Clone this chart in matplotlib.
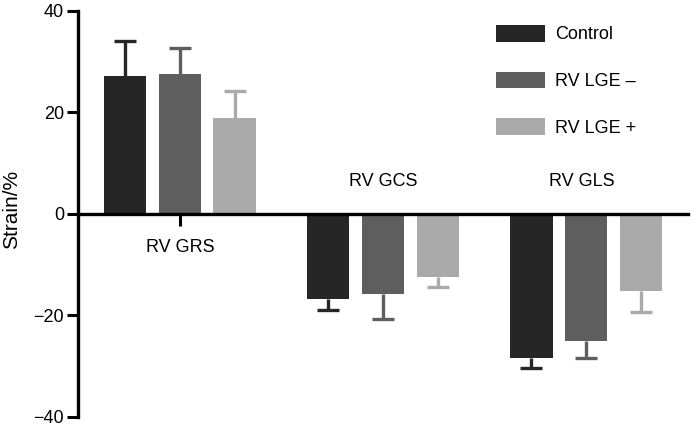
import matplotlib
matplotlib.use("Agg")
import matplotlib.pyplot as plt
import numpy as np

plt.rcParams['font.family'] = ['Liberation Sans', 'DejaVu Sans']

categories = ["RV GRS", "RV GCS", "RV GLS"]
groups = ["Control", "RV LGE \u2013", "RV LGE +"]
control = [27.2, -16.7, -28.5]
control_err = [6.8, 2.2, 1.9]
lge_neg = [27.5, -15.8, -25.0]
lge_neg_err = [5.3, 4.9, 3.4]
lge_pos = [18.9, -12.4, -15.3]
lge_pos_err = [5.3, 2.1, 4.0]
yticks = [-40, -20, 0, 20, 40]

colors = ["#262626", "#5e5e5e", "#aaaaaa"]
series = [(control, control_err), (lge_neg, lge_neg_err), (lge_pos, lge_pos_err)]

fig = plt.figure(figsize=(6.93, 4.26), dpi=100)
ax = fig.add_axes([78/693, 1-416.7/426, 610/693, (416.7-11)/426])

x = np.arange(len(categories))
width = 0.21
pitch = 0.27
for i, ((vals, errs), c, g) in enumerate(zip(series, colors, groups)):
    pos = x + (i - 1) * pitch
    vals = np.array(vals)
    errs = np.array(errs)
    ax.bar(pos, vals, width, color=c, label=g, zorder=2)
    for sign in (1, -1):
        m = np.sign(vals) == sign
        if not m.any():
            continue
        lower = errs[m] if sign < 0 else np.zeros(m.sum())
        upper = errs[m] if sign > 0 else np.zeros(m.sum())
        _, caps, _ = ax.errorbar(pos[m], vals[m], yerr=[lower, upper], fmt='none',
                                 ecolor=c, elinewidth=2.4, capsize=8,
                                 capthick=2.4, zorder=1.5)
        # keep only the cap away from zero
        caps[0 if sign > 0 else 1].set_visible(False)

ax.set_ylim(-40, 40)
ax.set_xlim(-0.502, 2.502)
ax.set_yticks(yticks)
ax.set_yticklabels(["\u221240", "\u221220", "0", "20", "40"])
ax.set_xticks(x)
ax.set_xticklabels([])
ax.tick_params(axis='y', length=8, width=2.2, labelsize=13, pad=2)
ax.tick_params(axis='x', length=8.5, width=2.2)

for s in ['top', 'right']:
    ax.spines[s].set_visible(False)
ax.spines['bottom'].set_position(('data', 0))
ax.spines['left'].set_linewidth(2.4)
ax.spines['bottom'].set_linewidth(2.4)

label_y = [-6.6, 6.4, 6.4]
label_x = [0, 0, -0.02]
for xi, (cat, ly, dx) in enumerate(zip(categories, label_y, label_x)):
    ax.text(xi + dx, ly, cat, ha='center', va='center', fontsize=13)

ax.set_ylabel("Strain/%", fontsize=15)
ax.yaxis.set_label_coords(-0.093, 0.512)

leg = ax.legend(loc='upper left', bbox_to_anchor=(0.658, 1.006), frameon=False,
                fontsize=13, handlelength=2.75, handleheight=1.05,
                labelspacing=1.56, handletextpad=0.55)

fig.savefig("out.png", dpi=100)
